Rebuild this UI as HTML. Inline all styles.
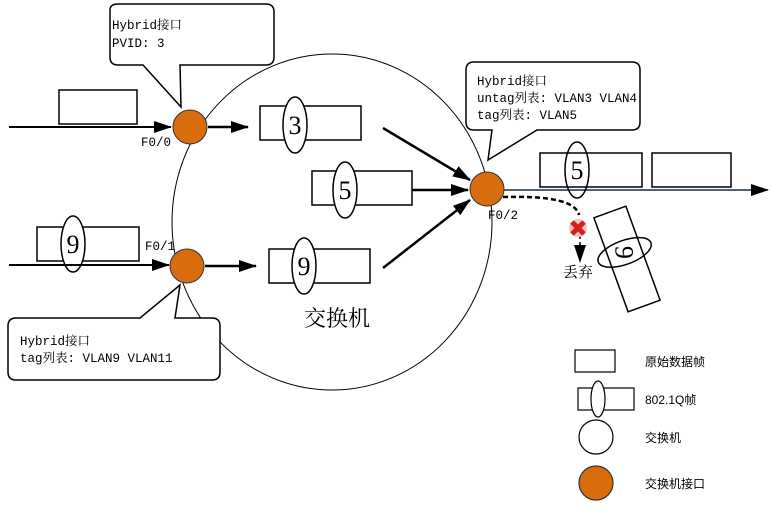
<!DOCTYPE html>
<html><head><meta charset="utf-8"><style>body{margin:0;background:#fff}svg{display:block}text{font-family:"Liberation Serif","Noto Serif CJK SC",serif}</style></head><body>
<svg width="773" height="518" viewBox="0 0 773 518" xmlns="http://www.w3.org/2000/svg">
<defs>
<marker id="b" markerWidth="18" markerHeight="12" refX="17" refY="6" orient="auto" markerUnits="userSpaceOnUse"><path d="M0,0L18,6L0,12z" fill="#000"/></marker></defs>
<ellipse cx="332" cy="222" rx="160" ry="168" fill="none" stroke="#000" stroke-width="1"/>
<g fill="none" stroke="#000" stroke-width="1.5">
<path d="M110,10 Q110,4 118,4 H266 Q274,4 274,12 V57 Q274,65 266,65 H180 L181,107 L143,65 H118 Q110,65 110,57 Z" fill="#fff"/>
<path d="M466,70 Q466,62 474,62 H632 Q640,62 640,70 V122 Q640,130 632,130 H537 L488,160 L492,130 H474 Q466,130 466,122 Z" fill="#fff"/>
<path d="M8,326 Q8,318 16,318 H140 L180,285 L175,318 H212 Q220,318 220,326 V372 Q220,380 212,380 H16 Q8,380 8,372 Z" fill="#fff"/>
</g>
<g font-size="12.5" style="font-family:'Liberation Mono','Noto Serif CJK SC',monospace">
<text x="112" y="29" style="font-family:'Liberation Mono','Noto Serif CJK SC',monospace">Hybrid接口</text>
<text x="112" y="47" style="font-family:'Liberation Mono','Noto Serif CJK SC',monospace">PVID: 3</text>
<text x="477" y="85" style="font-family:'Liberation Mono','Noto Serif CJK SC',monospace">Hybrid接口</text>
<text x="477" y="102" style="font-family:'Liberation Mono','Noto Serif CJK SC',monospace">untag列表: VLAN3 VLAN4</text>
<text x="477" y="119" style="font-family:'Liberation Mono','Noto Serif CJK SC',monospace">tag列表: VLAN5</text>
<text x="20" y="345" style="font-family:'Liberation Mono','Noto Serif CJK SC',monospace">Hybrid接口</text>
<text x="20" y="362" style="font-family:'Liberation Mono','Noto Serif CJK SC',monospace">tag列表: VLAN9  VLAN11</text>
<text x="141" y="146" style="font-family:'Liberation Mono',monospace">F0/0</text>
<text x="145" y="250" style="font-family:'Liberation Mono',monospace">F0/1</text>
<text x="488" y="219" style="font-family:'Liberation Mono',monospace">F0/2</text>
</g>
<g fill="#fff" stroke="#000" stroke-width="1.5">
<rect x="59" y="90" width="78" height="34"/>
<rect x="260" y="106" width="101" height="34"/><ellipse cx="295" cy="125" rx="12" ry="28"/>
<rect x="312" y="171" width="100" height="34"/><ellipse cx="345" cy="190" rx="12" ry="28"/>
<rect x="37" y="227" width="102" height="34"/><ellipse cx="73" cy="244" rx="12" ry="28"/>
<rect x="269" y="249" width="101" height="34"/><ellipse cx="304" cy="266" rx="12" ry="28"/>
<rect x="540" y="153" width="102" height="34"/>
<rect x="652" y="153" width="79" height="34"/>
</g>
<g font-size="26" text-anchor="middle">
<text x="295" y="134">3</text><text x="345" y="199">5</text><text x="73" y="253">9</text><text x="304" y="275">9</text>
</g>
<g stroke="#000" stroke-width="2.5" fill="none">
<line x1="9" y1="127" x2="171" y2="127" stroke-width="2" marker-end="url(#b)"/>
<line x1="9" y1="265" x2="169" y2="265" stroke-width="2" marker-end="url(#b)"/>
<line x1="208" y1="127" x2="248" y2="127" marker-end="url(#b)"/>
<line x1="205" y1="266" x2="256" y2="266" marker-end="url(#b)"/>
<line x1="383" y1="128" x2="470" y2="180" marker-end="url(#b)"/>
<line x1="412" y1="190" x2="468" y2="190" marker-end="url(#b)"/>
<line x1="383" y1="268" x2="470" y2="200" marker-end="url(#b)"/>
<line x1="503" y1="190" x2="768" y2="190" stroke="#1a2a44" stroke-width="1.5" marker-end="url(#b)"/>
<path d="M503,197 Q575,195 579,215" stroke-dasharray="5,3"/>
<line x1="580" y1="235" x2="580" y2="262" stroke-width="1.5" stroke-dasharray="4,3" marker-end="url(#b)"/>
</g>
<ellipse cx="577" cy="170" rx="12" ry="28" fill="none" stroke="#000" stroke-width="1.5"/>
<text x="577" y="179" font-size="26" text-anchor="middle">5</text>
<g transform="translate(627,259) rotate(-20)">
<rect x="-17" y="-50" width="34" height="100" fill="#fff" stroke="#000" stroke-width="1.5"/>
<ellipse cx="0" cy="-7" rx="28" ry="12" fill="none" stroke="#000" stroke-width="1.5"/>
<g transform="translate(0,-7) rotate(110)"><text x="0" y="9" font-size="26" text-anchor="middle">9</text></g>
</g>
<g transform="translate(578,228)"><circle r="9" fill="#f3c4c4"/><path d="M-6,-6L6,6M6,-6L-6,6" stroke="#d42020" stroke-width="5"/></g>
<text x="578" y="277" font-size="15" text-anchor="middle">丢弃</text>
<g fill="#d96d0e" stroke="#333" stroke-width="1">
<circle cx="190" cy="127" r="17"/><circle cx="187" cy="266" r="17"/><circle cx="487" cy="189" r="17"/>
</g>
<text x="337" y="326" font-size="22" text-anchor="middle">交换机</text>
<g fill="#fff" stroke="#000" stroke-width="1.2">
<rect x="575" y="350" width="40" height="22"/>
<rect x="578" y="388" width="56" height="22"/><ellipse cx="598" cy="399" rx="7" ry="18"/>
<circle cx="596" cy="437" r="17"/>
<circle cx="596" cy="483" r="17" fill="#d96d0e" stroke="#333"/>
</g>
<g font-size="12">
<text x="645" y="366" style="font-family:'Liberation Sans','Noto Sans CJK SC',sans-serif">原始数据帧</text>
<text x="645" y="404" style="font-family:'Liberation Sans','Noto Sans CJK SC',sans-serif">802.1Q帧</text>
<text x="645" y="442" style="font-family:'Liberation Sans','Noto Sans CJK SC',sans-serif">交换机</text>
<text x="645" y="488" style="font-family:'Liberation Sans','Noto Sans CJK SC',sans-serif">交换机接口</text>
</g>
</svg>
</body></html>
